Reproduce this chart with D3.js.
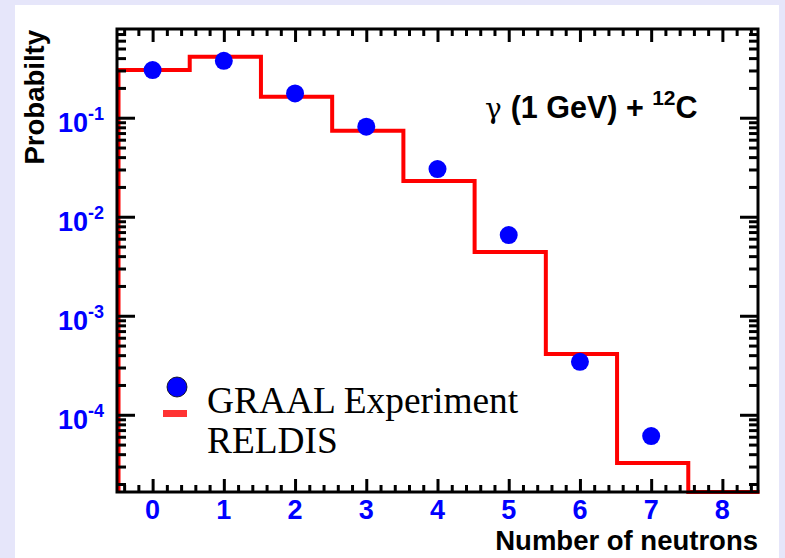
<!DOCTYPE html>
<html>
<head>
  <script src="https://cdn.jsdelivr.net/npm/d3@7"></script>
  <style>
    body { margin: 0; background: #e6e6fa; }
    svg { display: block; }
  </style>
</head>
<body>
  <div id="container"></div>
  <script>
    // neutron multiplicity, gamma (1 GeV) + 12C
    const neutrons = [0, 1, 2, 3, 4, 5, 6, 7, 8];
    const graalProb = [0.303, 0.376, 0.176, 0.0811, 0.0303, 0.00653, 3.43e-4, 6.1e-5];
    const reldisProb = [0.303, 0.413, 0.163, 0.074, 0.023, 0.0044, 4.1e-4, 3.26e-5, 1e-5];
    const yTickExp = [-1, -2, -3, -4];
    const legendLabels = ["GRAAL Experiment", "RELDIS"];

    const W = 785, H = 558;
    const pLeft = 117, pRight = 758, pTop = 29, pBottom = 492;

    const svg = d3.select("#container").append("svg")
      .attr("width", W).attr("height", H);

    svg.append("rect").attr("x", 15).attr("y", 5)
      .attr("width", 764).attr("height", H - 5).attr("fill", "#fff");

    const x = d3.scaleLinear().domain([-0.5, 8.5]).range([pLeft, pRight]);
    const y = d3.scaleLog().domain([1.66e-5, 0.787]).range([pBottom, pTop]).clamp(true);

    const plot = svg.append("g");

    // RELDIS histogram as a step line
    const steps = [[x(-0.5), pBottom]];
    reldisProb.forEach((v, i) => {
      steps.push([x(neutrons[i] - 0.5), y(v)]);
      steps.push([x(neutrons[i] + 0.5), y(v)]);
    });
    plot.append("path")
      .attr("d", d3.line()(steps))
      .attr("fill", "none")
      .attr("stroke", "#ff0000")
      .attr("stroke-width", 4)
      .attr("transform", "translate(1.5,0)");

    // GRAAL points
    plot.selectAll("circle.pt")
      .data(graalProb)
      .join("circle")
      .attr("class", "pt")
      .attr("cx", (d, i) => x(neutrons[i]))
      .attr("cy", d => y(d))
      .attr("r", 9)
      .attr("fill", "#0000ff");

    // ticks
    const xMajor = neutrons;
    const xMinor = d3.range(-2, 43).map(k => k * 0.2).filter(v => Math.abs(v - Math.round(v)) > 1e-6);
    const yMajor = yTickExp.map(e => Math.pow(10, e));
    const yMinor = [];
    for (let e = -5; e <= -1; e++) {
      for (let m = 2; m <= 9; m++) {
        const v = m * Math.pow(10, e);
        if (v >= y.domain()[0] && v <= y.domain()[1]) yMinor.push(v);
      }
    }

    const axisStyle = g => {
      g.select(".domain").remove();
      g.selectAll("line").attr("stroke", "#000").attr("stroke-width", 3);
      g.selectAll("text").remove();
    };

    svg.append("g").attr("transform", `translate(0,${pBottom})`)
      .call(d3.axisBottom(x).tickValues(xMajor).tickSize(-13)).call(axisStyle);
    svg.append("g").attr("transform", `translate(0,${pBottom})`)
      .call(d3.axisBottom(x).tickValues(xMinor).tickSize(-7)).call(axisStyle);
    svg.append("g").attr("transform", `translate(0,${pTop})`)
      .call(d3.axisTop(x).tickValues(xMajor).tickSize(-13)).call(axisStyle);
    svg.append("g").attr("transform", `translate(0,${pTop})`)
      .call(d3.axisTop(x).tickValues(xMinor).tickSize(-7)).call(axisStyle);

    svg.append("g").attr("transform", `translate(${pLeft},0)`)
      .call(d3.axisLeft(y).tickValues(yMajor).tickSize(-18)).call(axisStyle);
    svg.append("g").attr("transform", `translate(${pLeft},0)`)
      .call(d3.axisLeft(y).tickValues(yMinor).tickSize(-9)).call(axisStyle);
    svg.append("g").attr("transform", `translate(${pRight},0)`)
      .call(d3.axisRight(y).tickValues(yMajor).tickSize(-18)).call(axisStyle);
    svg.append("g").attr("transform", `translate(${pRight},0)`)
      .call(d3.axisRight(y).tickValues(yMinor).tickSize(-9)).call(axisStyle);

    // frame
    svg.append("rect")
      .attr("x", pLeft).attr("y", pTop)
      .attr("width", pRight - pLeft).attr("height", pBottom - pTop)
      .attr("fill", "none").attr("stroke", "#000").attr("stroke-width", 3);

    // tick labels
    const labelFont = "'Liberation Sans', Arial, sans-serif";
    svg.append("g").selectAll("text")
      .data(xMajor)
      .join("text")
      .attr("x", d => x(d))
      .attr("y", 519)
      .attr("text-anchor", "middle")
      .attr("font-family", labelFont)
      .attr("font-weight", "bold")
      .attr("font-size", 27)
      .attr("fill", "#0000ff")
      .text(d => d);

    const yLab = svg.append("g").selectAll("text")
      .data(yTickExp)
      .join("text")
      .attr("x", 104)
      .attr("y", d => y(Math.pow(10, d)) + 14)
      .attr("text-anchor", "end")
      .attr("font-family", labelFont)
      .attr("font-weight", "bold")
      .attr("font-size", 27)
      .attr("fill", "#0000ff");
    yLab.append("tspan").text("10");
    yLab.append("tspan").attr("dy", -12).attr("font-size", 18).text(d => d);

    // axis titles
    svg.append("text")
      .attr("x", pRight).attr("y", 550)
      .attr("text-anchor", "end")
      .attr("font-family", labelFont)
      .attr("font-weight", "bold")
      .attr("font-size", 27.5)
      .text("Number of neutrons");

    svg.append("text")
      .attr("transform", `translate(44,${pTop + 1}) rotate(-90)`)
      .attr("text-anchor", "end")
      .attr("font-family", labelFont)
      .attr("font-weight", "bold")
      .attr("font-size", 27.5)
      .text("Probabilty");

    // reaction label
    const note = svg.append("text")
      .attr("x", 485).attr("y", 118)
      .attr("font-family", labelFont)
      .attr("font-size", 30.5);
    note.append("tspan").attr("font-family", "'DejaVu Serif', serif").attr("font-size", 28).text("γ ");
    note.append("tspan").attr("font-weight", "bold").text("(1 GeV) + ");
    note.append("tspan").attr("font-weight", "bold").attr("font-size", 21).attr("dy", -13).text("12");
    note.append("tspan").attr("font-weight", "bold").attr("dy", 13).text("C");

    // legend
    const legend = svg.append("g");
    legend.append("circle").attr("cx", 177).attr("cy", 387).attr("r", 10)
      .attr("fill", "#0000ff").attr("stroke", "#000").attr("stroke-width", 0.8);
    legend.append("rect").attr("x", 163).attr("y", 410).attr("width", 24).attr("height", 7)
      .attr("fill", "#ff3333");
    legend.selectAll("text")
      .data(legendLabels)
      .join("text")
      .attr("x", 207)
      .attr("y", (d, i) => 413 + i * 40)
      .attr("font-family", "'Liberation Serif', 'Times New Roman', serif")
      .attr("font-size", 37.4)
      .attr("fill", "#000")
      .text(d => d);
  </script>
</body>
</html>
